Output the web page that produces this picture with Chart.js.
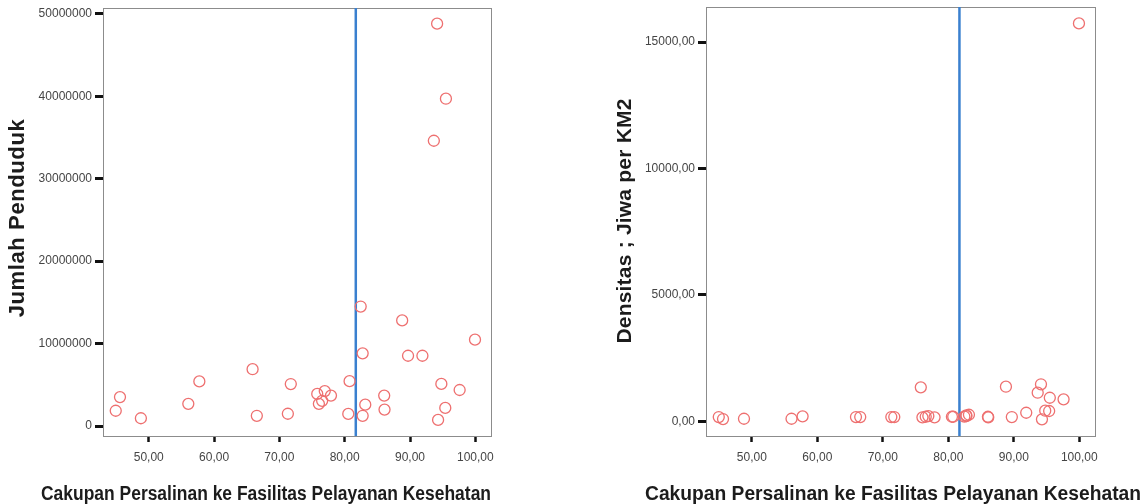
<!DOCTYPE html>
<html>
<head>
<meta charset="utf-8">
<script src="https://cdn.jsdelivr.net/npm/chart.js@4/dist/chart.umd.min.js"></script>
<style>
  html, body { margin: 0; padding: 0; background: #fff; }
  body { width: 1147px; height: 504px; position: relative; overflow: hidden; }
  .panel { position: absolute; top: 0; }
  canvas { display: block; }
</style>
</head>
<body>
<div class="panel" style="left:0"><canvas id="popChart" width="560" height="504"></canvas></div>
<div class="panel" style="left:580px"><canvas id="densChart" width="567" height="504"></canvas></div>
<script>
// Coverage of deliveries at health facilities (%), one value per province
const coverage = [44.95, 45.6, 48.8, 56.06, 57.75, 65.9, 66.55, 71.3, 71.75, 75.8,
                  76.05, 76.55, 76.95, 77.9, 80.55, 80.75, 82.45, 82.75, 83.15, 82.75,
                  86.05, 86.1, 88.8, 89.7, 91.9, 94.8, 95.4, 94.3, 97.6, 99.95,
                  94.15, 95.5, 93.65];
// Population per province
const population = [1860000, 3520000, 950000, 2700000, 5420000, 6900000, 1250000, 1500000, 5100000, 3900000,
                    2700000, 3070000, 4250000, 3700000, 1480000, 5450000, 14500000, 8820000, 2600000, 1250000,
                    3700000, 2000000, 12820000, 8530000, 8530000, 5120000, 2210000, 750000, 4380000, 10480000,
                    48800000, 39700000, 34600000];
// Population density per province (people per km2)
const density = [170, 91, 103, 103, 198, 170, 170, 170, 170, 1346,
                 158, 182, 210, 158, 182, 182, 190, 210, 261, 237,
                 182, 158, 1370, 170, 340, 420, 408, 79, 871, 15741,
                 1465, 934, 1132];

const coverageTicks = [50, 60, 70, 80, 90, 100];
const populationTicks = [0, 10000000, 20000000, 30000000, 40000000, 50000000];
const densityTicks = [0, 5000, 10000, 15000];
// Reference coverage level marked by the vertical line
const coverageCutoff = 81.7;

const xTitle = 'Cakupan Persalinan ke Fasilitas Pelayanan Kesehatan';
const popTitle = 'Jumlah Penduduk';
const densTitle = 'Densitas ; Jiwa per KM2';

const FONT = '"Liberation Sans", Arial, Helvetica, sans-serif';
Chart.defaults.font.family = FONT;
Chart.defaults.font.size = 12;
Chart.defaults.color = '#454545';

const commaDecimals = v => Number(v).toFixed(2).replace('.', ',');

// Text stretched or squeezed to a given length
function drawFitted(ctx, text, x, y, length, size, vertical) {
  ctx.save();
  ctx.translate(x, y);
  if (vertical) ctx.rotate(-Math.PI / 2);
  ctx.font = 'bold ' + size + 'px ' + FONT;
  ctx.fillStyle = '#1c1c1c';
  ctx.textAlign = 'center';
  ctx.textBaseline = 'middle';
  const natural = ctx.measureText(text).width;
  if (natural > length) {
    ctx.fillText(text, 0, 0, length);
  } else {
    ctx.letterSpacing = ((length - natural) / (text.length - 1)).toFixed(2) + 'px';
    ctx.fillText(text, 0, 0);
  }
  ctx.restore();
}

const framePlugin = {
  id: 'plotFrame',
  beforeDatasetsDraw(chart) {
    const a = chart.chartArea, ctx = chart.ctx;
    ctx.save();
    ctx.strokeStyle = '#8c8c8c';
    ctx.lineWidth = 1;
    ctx.strokeRect(Math.round(a.left) + 0.5, Math.round(a.top) + 0.5,
                   Math.round(a.right - a.left), Math.round(a.bottom - a.top));
    ctx.restore();
  }
};

const titlePlugin = {
  id: 'axisTitles',
  afterDraw(chart, args, opts) {
    const ctx = chart.ctx;
    const t = opts.x, u = opts.y;
    drawFitted(ctx, t.text, t.cx, t.cy, t.length, t.size, false);
    drawFitted(ctx, u.text, u.cx, u.cy, u.length, u.size, true);
  }
};

function buildChart(id, values, yTicks, yMin, yMax, yFormat, geom, titles) {
  const points = coverage.map((c, i) => ({ x: c, y: values[i] }));
  return new Chart(document.getElementById(id), {
    type: 'scatter',
    data: {
      datasets: [
        {
          data: points,
          pointRadius: 5.5,
          pointHoverRadius: 5.5,
          pointBorderWidth: 1.3,
          pointBorderColor: '#ee7070',
          pointBackgroundColor: 'rgba(255,255,255,0)'
        },
        {
          type: 'line',
          data: [{ x: coverageCutoff, y: yMin }, { x: coverageCutoff, y: yMax }],
          borderColor: '#3a80cf',
          borderWidth: 2.5,
          pointRadius: 0,
          fill: false
        }
      ]
    },
    options: {
      responsive: false,
      animation: false,
      layout: { padding: { left: 0, right: geom.padRight, top: geom.padTop, bottom: 0 } },
      plugins: {
        legend: { display: false },
        tooltip: { enabled: false },
        axisTitles: titles
      },
      scales: {
        x: {
          type: 'linear',
          min: 43,
          max: 102.4,
          afterBuildTicks: s => { s.ticks = coverageTicks.map(v => ({ value: v })); },
          afterFit: s => { s.height = geom.xHeight; s.paddingLeft = 0; s.paddingRight = 0; },
          ticks: { callback: v => commaDecimals(v), padding: 8, maxRotation: 0, autoSkip: false },
          grid: { drawOnChartArea: false, tickLength: 6, tickWidth: 2.5, tickColor: '#111' },
          border: { display: false }
        },
        y: {
          type: 'linear',
          min: yMin,
          max: yMax,
          afterBuildTicks: s => { s.ticks = yTicks.map(v => ({ value: v })); },
          afterFit: s => { s.width = geom.yWidth; s.paddingTop = 0; s.paddingBottom = 0; },
          ticks: { callback: yFormat, padding: 3, autoSkip: false },
          grid: { drawOnChartArea: false, tickLength: 8, tickWidth: 3, tickColor: '#111' },
          border: { display: false }
        }
      }
    },
    plugins: [framePlugin, titlePlugin]
  });
}

buildChart('popChart', population, populationTicks, -1200000, 50700000,
  v => String(v),
  { padRight: 69, padTop: 8, xHeight: 68, yWidth: 103 },
  {
    x: { text: xTitle, cx: 266, cy: 494, length: 450, size: 20 },
    y: { text: popTitle, cx: 18, cy: 218, length: 198, size: 22 }
  });

buildChart('densChart', density, densityTicks, -580, 16390,
  commaDecimals,
  { padRight: 52, padTop: 7, xHeight: 68, yWidth: 126 },
  {
    x: { text: xTitle, cx: 313, cy: 494, length: 496, size: 20 },
    y: { text: densTitle, cx: 45, cy: 221, length: 245, size: 21 }
  });
</script>
</body>
</html>
